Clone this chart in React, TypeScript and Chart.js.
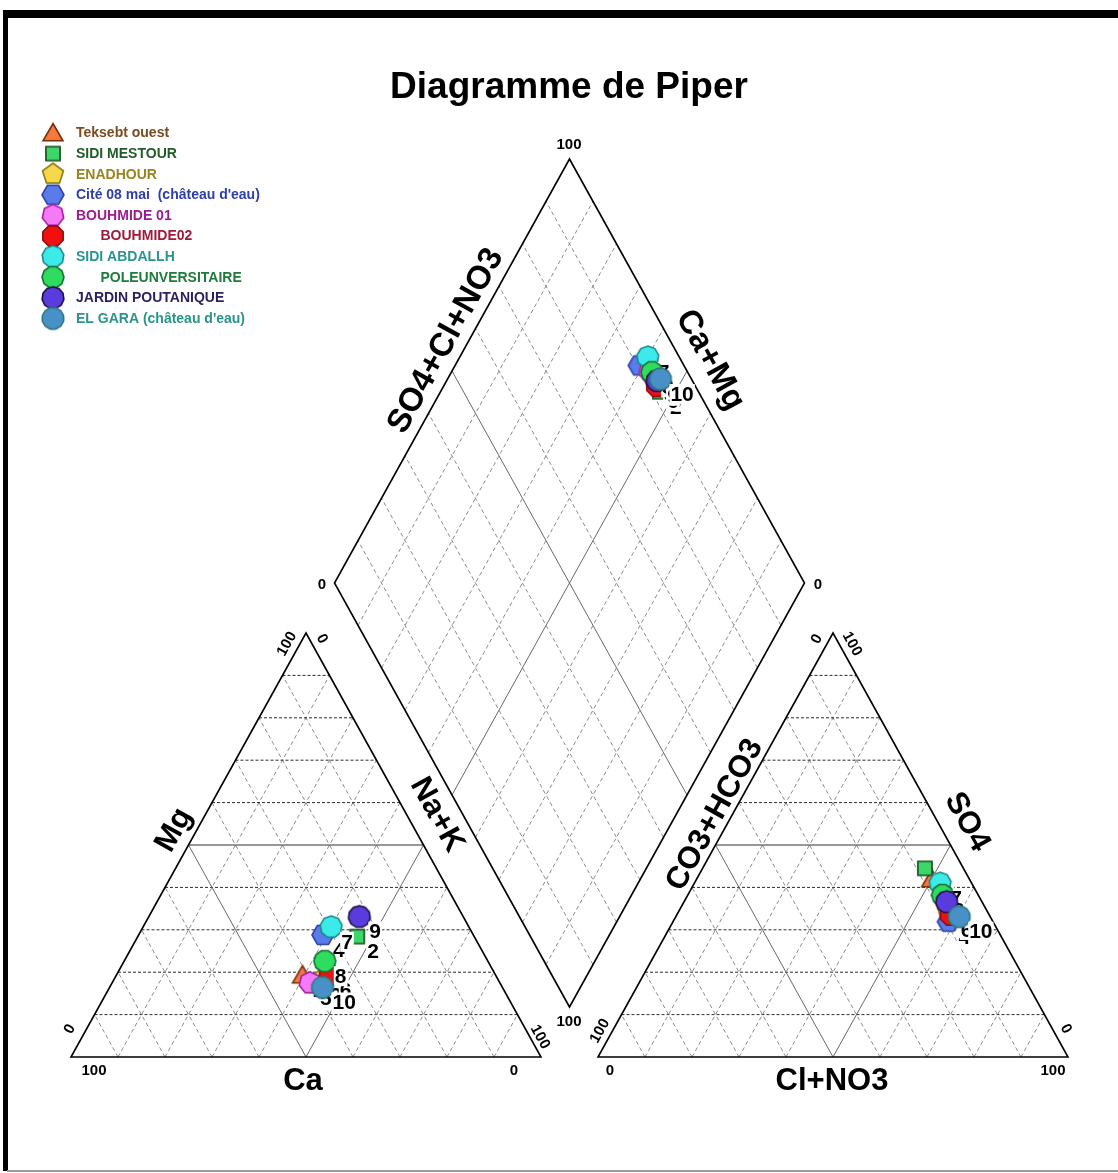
import React, { useEffect, useRef } from 'react';
import { Chart, registerables } from 'chart.js';

Chart.register(...registerables);

// ---------------- data ----------------
const sampleNames = [
  'Teksebt ouest',
  'SIDI MESTOUR',
  'ENADHOUR',
  "Cité 08 mai  (château d'eau)",
  'BOUHMIDE 01',
  'BOUHMIDE02',
  'SIDI ABDALLH',
  'POLEUNVERSITAIRE',
  'JARDIN POUTANIQUE',
  "EL GARA (château d'eau)",
];
const sampleNumbers = ['1', '2', '3', '4', '5', '6', '7', '8', '9', '10'];

// cations (% meq)
const caPct = [41.1, 24.9, 38.0, 32.0, 40.4, 35.3, 29.3, 34.7, 22.1, 38.3];
const mgPct = [19.3, 28.4, 18.0, 28.8, 17.5, 19.3, 30.7, 22.6, 33.1, 16.4];
const naKPct = [39.6, 46.7, 44.0, 39.2, 42.1, 45.4, 40.0, 42.7, 44.8, 45.3];
// anions (% meq)
const hco3Pct = [8.0, 8.2, 8.0, 9.5, 8.0, 8.2, 6.7, 7.6, 7.5, 6.6];
const so4Pct = [42.0, 44.5, 36.0, 31.9, 34.0, 33.5, 41.0, 38.2, 36.6, 33.1];
const clPct = [50.0, 47.3, 56.0, 58.6, 58.0, 58.3, 52.3, 54.2, 55.9, 60.3];

const gridSteps = [10, 20, 30, 40, 50, 60, 70, 80, 90];

// ---------------- styles ----------------
const markerSides = [3, 4, 5, 6, 7, 8, 9, 10, 11, 12];
const markerFill = ['#F47A3C', '#3DD668', '#F7D84A', '#5A7BEA', '#F57AF5', '#F01010', '#3DEAEA', '#2EDC60', '#5A3CDC', '#4A90C8'];
const markerStroke = ['#7A2E0A', '#1A4A1A', '#8C7A14', '#2A3FA8', '#A81EA8', '#8A1010', '#1A8A8A', '#157030', '#20104A', '#2A7A7A'];
const legendTextColor = ['#7B4A1E', '#1F5C2A', '#9A8420', '#2E3EAA', '#9B1E8F', '#9E1B3A', '#2A9490', '#1F7A3C', '#2B1F60', '#2A9488'];
const legendIndent = [0, 0, 0, 0, 0, 1, 0, 1, 0, 0];

// ---------------- geometry (layout, px) ----------------
const CW = 1118;
const CH = 1173;
const W = 470; // triangle base width
const H = 424; // triangle height
const LX0 = 71; // left triangle bottom-left x
const RX0 = 598; // right triangle bottom-left x
const YB = 1057; // base line y
const DBX = 569.5; // diamond bottom vertex
const DBY = 1007;
const ANG = (Math.atan2(H, W / 2) * 180) / Math.PI;

const FONT = '"Liberation Sans", Arial, Helvetica, sans-serif';

function cationXY(i: number) {
  const t = mgPct[i] / 100;
  const n = naKPct[i] / 100;
  return { x: LX0 + (t * W) / 2 + n * W, y: YB - t * H };
}
function anionXY(i: number) {
  const s = so4Pct[i] / 100;
  const c = clPct[i] / 100;
  return { x: RX0 + (s * W) / 2 + c * W, y: YB - s * H };
}
function diamondXY(i: number) {
  const u = (caPct[i] + mgPct[i]) / 100;
  const v = (so4Pct[i] + clPct[i]) / 100;
  return { x: DBX + ((v - u) * W) / 2, y: DBY - (u + v) * H };
}

function makeMarker(sides: number, fill: string, stroke: string) {
  const r = sides === 3 ? 11.5 : sides === 4 ? 10 : 11;
  const size = 28;
  const c = document.createElement('canvas');
  c.width = size;
  c.height = size;
  const ctx = c.getContext('2d')!;
  const cx = size / 2;
  const cy = sides === 3 ? size / 2 + 2 : size / 2;
  let start = -Math.PI / 2;
  if (sides % 2 === 0) start += Math.PI / sides;
  ctx.beginPath();
  for (let k = 0; k < sides; k++) {
    const a = start + (k * 2 * Math.PI) / sides;
    const x = cx + r * Math.cos(a);
    const y = cy + r * Math.sin(a);
    if (k === 0) ctx.moveTo(x, y);
    else ctx.lineTo(x, y);
  }
  ctx.closePath();
  ctx.fillStyle = fill;
  ctx.fill();
  ctx.lineWidth = 1.6;
  ctx.strokeStyle = stroke;
  ctx.stroke();
  return c;
}

export default function App() {
  const ref = useRef<HTMLCanvasElement | null>(null);

  useEffect(() => {
    const canvas = ref.current;
    if (!canvas) return;
    const markers = markerSides.map((s, i) => makeMarker(s, markerFill[i], markerStroke[i]));

    const datasets = sampleNames.map((name, i) => ({
      label: name,
      data: [cationXY(i), anionXY(i), diamondXY(i)],
      pointStyle: markers[i] as any,
      pointRadius: 11,
      pointHoverRadius: 11,
      backgroundColor: markerFill[i],
      borderColor: markerStroke[i],
      showLine: false,
      clip: false,
      order: sampleNames.length - i,
    }));

    const decor = {
      id: 'piperDecor',
      beforeDraw(chart: any) {
        const ctx = chart.ctx;
        ctx.save();
        ctx.fillStyle = '#ffffff';
        ctx.fillRect(0, 0, chart.width, chart.height);
        ctx.restore();
      },
      beforeDatasetsDraw(chart: any) {
        const ctx: CanvasRenderingContext2D = chart.ctx;
        const xs = chart.scales.x;
        const ys = chart.scales.y;
        const X = (v: number) => xs.getPixelForValue(v);
        const Y = (v: number) => ys.getPixelForValue(v);
        const seg = (x1: number, y1: number, x2: number, y2: number) => {
          ctx.beginPath();
          ctx.moveTo(X(x1), Y(y1));
          ctx.lineTo(X(x2), Y(y2));
          ctx.stroke();
        };
        ctx.save();

        // triangle grids
        const triGrid = (x0: number) => {
          gridSteps.forEach((g) => {
            const f = g / 100;
            const solid = g === 50;
            // horizontal
            ctx.lineWidth = 1;
            ctx.strokeStyle = solid ? '#333333' : '#2a2a2a';
            ctx.setLineDash(solid ? [] : [3, 2]);
            seg(x0 + (f * W) / 2, YB - f * H, x0 + W - (f * W) / 2, YB - f * H);
            // diagonals
            ctx.strokeStyle = solid ? '#6a6a6a' : '#8c8c8c';
            ctx.setLineDash(solid ? [] : [4, 3]);
            seg(x0 + f * W, YB, x0 + W / 2 + (f * W) / 2, YB - H + f * H);
            seg(x0 + W - f * W, YB, x0 + W / 2 - (f * W) / 2, YB - H + f * H);
          });
        };
        triGrid(LX0);
        triGrid(RX0);

        // diamond grid
        gridSteps.forEach((g) => {
          const f = g / 100;
          const solid = g === 50;
          ctx.lineWidth = 1;
          ctx.strokeStyle = solid ? '#6a6a6a' : '#8c8c8c';
          ctx.setLineDash(solid ? [] : [4, 3]);
          seg(DBX - (f * W) / 2, DBY - f * H, DBX - (f * W) / 2 + W / 2, DBY - f * H - H);
          seg(DBX + (f * W) / 2, DBY - f * H, DBX + (f * W) / 2 - W / 2, DBY - f * H - H);
        });

        // outlines
        ctx.setLineDash([]);
        ctx.strokeStyle = '#000000';
        ctx.lineWidth = 1.6;
        ctx.lineJoin = 'miter';
        const poly = (pts: number[][]) => {
          ctx.beginPath();
          pts.forEach((p, k) => (k === 0 ? ctx.moveTo(X(p[0]), Y(p[1])) : ctx.lineTo(X(p[0]), Y(p[1]))));
          ctx.closePath();
          ctx.stroke();
        };
        poly([[LX0, YB], [LX0 + W, YB], [LX0 + W / 2, YB - H]]);
        poly([[RX0, YB], [RX0 + W, YB], [RX0 + W / 2, YB - H]]);
        poly([[DBX, DBY], [DBX - W / 2, DBY - H], [DBX, DBY - 2 * H], [DBX + W / 2, DBY - H]]);

        // text helpers
        ctx.fillStyle = '#000000';
        const txt = (t: string, x: number, y: number, font: string, rot = 0) => {
          ctx.save();
          ctx.translate(X(x), Y(y));
          ctx.rotate((rot * Math.PI) / 180);
          ctx.font = font;
          ctx.textAlign = 'center';
          ctx.textBaseline = 'middle';
          ctx.fillText(t, 0, 0);
          ctx.restore();
        };
        const tick = 'bold 15px ' + FONT;
        const axis = 'bold 31px ' + FONT;
        const axisD = 'bold 33px ' + FONT;

        // tick labels
        txt('100', 569, 145, tick);
        txt('0', 322, 585, tick);
        txt('0', 818, 585, tick);
        txt('100', 569, 1022, tick);
        txt('100', 94, 1071, tick);
        txt('0', 514, 1071, tick);
        txt('0', 70, 1029, tick, -ANG);
        txt('100', 287, 644, tick, -ANG);
        txt('0', 322, 639, tick, ANG);
        txt('100', 540, 1037, tick, ANG);
        txt('0', 610, 1071, tick);
        txt('100', 1053, 1071, tick);
        txt('100', 600, 1031, tick, -ANG);
        txt('0', 817, 639, tick, -ANG);
        txt('100', 852, 644, tick, ANG);
        txt('0', 1066, 1029, tick, ANG);

        // axis titles
        txt('Ca', 303, 1081, axis);
        txt('Cl+NO3', 832, 1081, axis);
        txt('Mg', 174, 830, axis, -ANG);
        txt('Na+K', 437, 815, axis, ANG);
        txt('CO3+HCO3', 715, 815, axis, -ANG);
        txt('SO4', 967, 822, axis, ANG);
        txt('SO4+Cl+NO3', 446, 341, axisD, -ANG);
        txt('Ca+Mg', 710, 360, axisD, ANG);

        // title
        txt('Diagramme de Piper', 569, 88, 'bold 37px ' + FONT);

        // legend
        sampleNames.forEach((name, i) => {
          const ly = 133 + i * 20.6;
          const m = markers[i];
          ctx.drawImage(m, 53 - m.width / 2, ly - m.height / 2);
          ctx.font = 'bold 14px ' + FONT;
          ctx.textAlign = 'left';
          ctx.textBaseline = 'middle';
          ctx.fillStyle = legendTextColor[i];
          ctx.fillText(name, 76 + legendIndent[i] * 24.5, ly + 0.5);
        });

        // frame
        ctx.fillStyle = '#000000';
        ctx.fillRect(3, 10, CW - 3, 8);
        ctx.fillRect(3, 10, 5, CH - 12);
        ctx.fillStyle = '#9a9a9a';
        ctx.fillRect(7, CH - 3, CW - 7, 2);
        ctx.restore();
      },
      afterDatasetDraw(chart: any, args: any) {
        const ctx: CanvasRenderingContext2D = chart.ctx;
        const idx = args.index;
        const meta = args.meta;
        const label = sampleNumbers[idx];
        ctx.save();
        ctx.font = 'bold 21px ' + FONT;
        ctx.textAlign = 'left';
        ctx.textBaseline = 'middle';
        const w = ctx.measureText(label).width;
        meta.data.forEach((pt: any) => {
          const lx = pt.x + 10;
          const ly = pt.y + 15;
          ctx.fillStyle = '#ffffff';
          ctx.fillRect(lx - 1, ly - 10, w + 2, 20);
          ctx.fillStyle = '#000000';
          ctx.fillText(label, lx, ly + 1);
        });
        ctx.restore();
      },
    };

    const chart = new Chart(canvas, {
      type: 'scatter',
      data: { datasets: datasets as any },
      options: {
        responsive: false,
        maintainAspectRatio: false,
        animation: false,
        events: [],
        layout: { padding: 0, autoPadding: false },
        scales: {
          x: { type: 'linear', min: 0, max: CW, display: false },
          y: { type: 'linear', min: 0, max: CH, reverse: true, display: false },
        },
        plugins: {
          legend: { display: false },
          tooltip: { enabled: false },
        },
      },
      plugins: [decor as any],
    });
    return () => chart.destroy();
  }, []);

  return (
    <canvas
      ref={ref}
      width={CW}
      height={CH}
      style={{ position: 'absolute', left: 0, top: 0, width: CW, height: CH, display: 'block' }}
    />
  );
}
